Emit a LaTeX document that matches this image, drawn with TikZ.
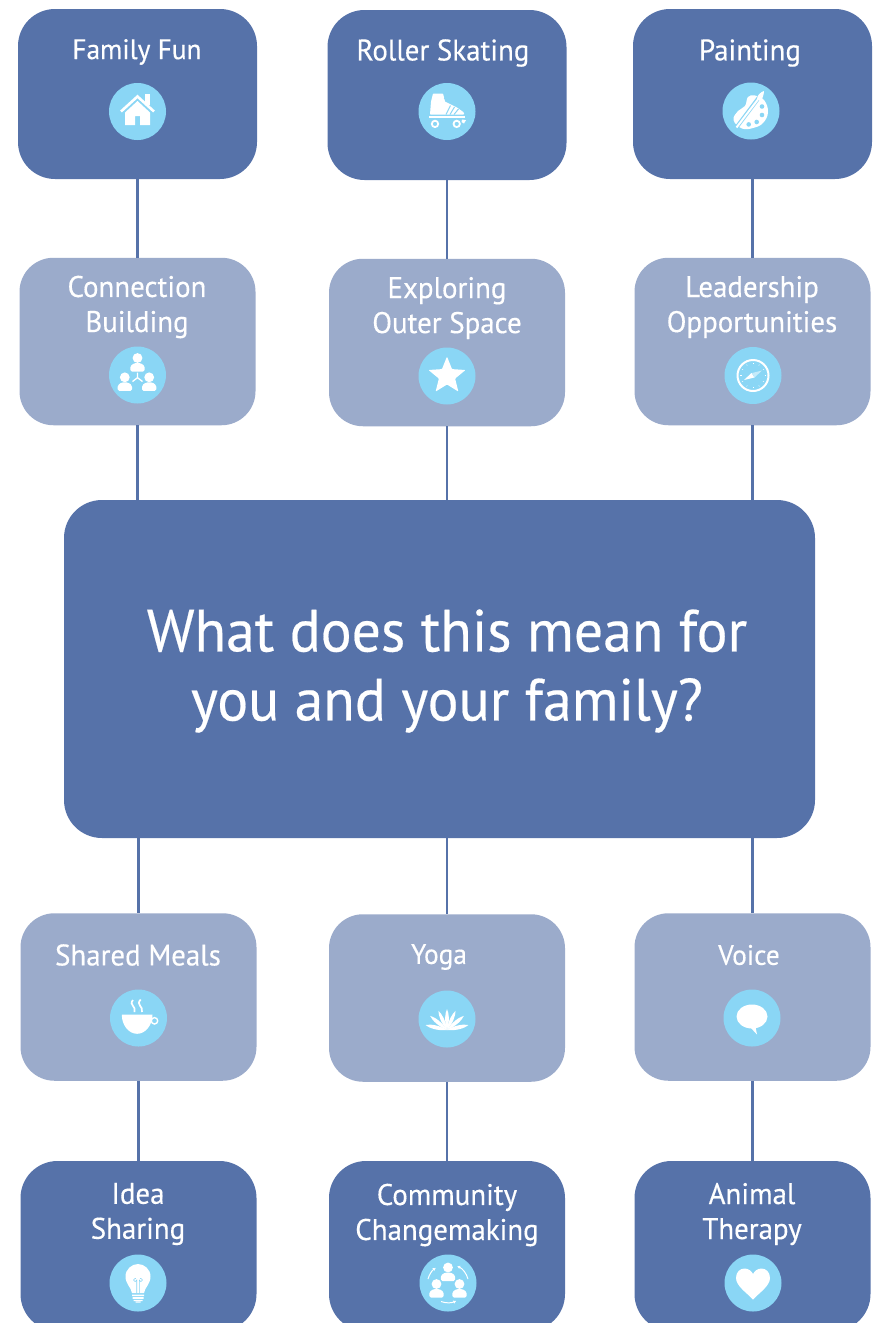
\documentclass[tikz,border=0pt]{standalone}
\usepackage{fontspec}
\setmainfont{PT Sans}
\newfontfamily\labelfont[FakeBold=0.35,FakeStretch=0.97]{PT Sans}
\usetikzlibrary{arrows.meta,calc}
\definecolor{darkblue}{HTML}{5672A9}
\definecolor{lightblue}{HTML}{9BABCB}
\definecolor{iconblue}{HTML}{8AD6F5}
\tikzset{
  x=1pt,y=-1pt,
  darkbox/.style={fill=darkblue,draw=none,rounded corners=37pt,inner sep=0pt,minimum width=239pt,minimum height=170pt},
  lightbox/.style={fill=lightblue,draw=none,rounded corners=34pt,inner sep=0pt,minimum width=236pt,minimum height=167.5pt},
  mainbox/.style={fill=darkblue,draw=none,rounded corners=38pt,inner sep=0pt,minimum width=751pt,minimum height=338pt},
  label/.style={text=white,align=center,inner sep=0pt,font=\labelfont\fontsize{29.8}{35}\selectfont},
  shortlabel/.style={text=white,align=center,inner sep=0pt,font=\labelfont\fontsize{28.2}{35}\selectfont},
  mainlabel/.style={text=white,align=center,inner sep=0pt,font=\labelfont\fontsize{59.5}{69}\selectfont},
  iconcircle/.style={fill=iconblue,draw=none,circle,inner sep=0pt,minimum size=57pt},
  link/.style={draw=darkblue,line width=2.2pt},
  icon/.style={fill=white,draw=none},
}
\newcommand{\famperson}[2]{%
  \fill[white] (#1,#2) circle (4.9);
  \fill[white,rounded corners=1.5pt] ($(#1,#2)+(-7.2,13.5)$) -- ($(#1,#2)+(-7.2,8)$) -- ($(#1,#2)+(-3,5)$) -- ($(#1,#2)+(3,5)$) -- ($(#1,#2)+(7.2,8)$) -- ($(#1,#2)+(7.2,13.5)$) -- cycle;}
\newcommand{\lotuspetal}[3]{%
  \fill[white,shift={(0,11)},rotate=#1,xscale=#3,yscale=#2] (0,0) .. controls (-.19,-.45) and (-.12,-.8) .. (0,-1) .. controls (.12,-.8) and (.19,-.45) .. (0,0);}
\tikzset{
  pics/house/.style={code={
    \draw[white,line width=2.6pt] (-16.5,0) -- (0,-15) -- (16.5,0);
    \fill[white] (0,-10.5) -- (-12.5,1) -- (-12.5,13.5) -- (-2.5,13.5) -- (-2.5,4.5) -- (2.5,4.5) -- (2.5,13.5) -- (12.5,13.5) -- (12.5,1) -- cycle;
    \fill[white] (7,-18) rectangle (12.5,-7);
  }},
  pics/skate/.style={code={
    \fill[white,rounded corners=.8pt] (-14,-18) -- (-4,-18) -- (-2,-10) -- (10,-4) -- (17,1) -- (17,3.2) -- (-17,3.2) -- (-16,-10) -- cycle;
    \draw[iconblue,line width=.8pt] (-3,-13) -- (1,-15) (-1.5,-10) -- (2,-12);
    \draw[iconblue,line width=1pt] (-1,3) -- (3.5,-6) (3,3) -- (7.5,-4.5) (7,3) -- (11.5,-2.5);
    \fill[white] (-18,4.6) rectangle (18,6.8);
    \draw[white,line width=1.8pt,fill=iconblue] (-12,12.4) circle (3.2) (9.7,12.4) circle (3.2);
    \fill[white] (15,8) -- (19,8.6) -- (17,12) -- (14.5,10.5) -- cycle;
  }},
  pics/palette/.style={code={
    \fill[white] plot[smooth cycle,tension=.7] coordinates {(-17.5,9) (-13,0) (-6,-5) (-3,-14) (4,-15.5) (13,-11) (17,1) (12,12) (2,17) (-9,17.5)};
    \fill[iconblue] (11,-4.5) circle (2.3) (11,4) circle (2.3) (5.7,11) circle (2.3) (-2.3,13.4) circle (2.3);
    \draw[iconblue,line width=4pt] (-15,17) -- (9,-15);
    \draw[white,line width=2pt] (-14.5,16.5) -- (8,-13);
    \fill[white] (6,-12) .. controls (6,-16) and (10,-19) .. (13,-20) .. controls (13,-16) and (11,-11) .. (9,-10) -- cycle;
  }},
  pics/network/.style={code={
    \famperson{0}{-17}
    \famperson{-12.7}{2.3}
    \famperson{11.7}{2.3}
    \draw[white,line width=1.3pt] (0,-2.5) -- (0,2.7) (-5,6.5) -- (0,2.7) -- (5,6.5);
  }},
  pics/compass/.style={code={
    \draw[white,line width=2pt] (0,0) circle (15.5);
    \foreach \a in {0,30,...,330}{\draw[white,line width=.4pt] (\a:11.5) -- (\a:12.7);}
    \fill[white] (-9,4.5) -- (-1.5,-2.5) -- (1.5,2) -- cycle;
    \fill[white!50!iconblue] (9,-5) -- (-1,-2.5) -- (1.5,2) -- cycle;
  }},
  pics/starshape/.style={code={
    \fill[white,rounded corners=.8pt] (0,-19.5) -- (5,-6.9) -- (18.5,-6) -- (8.1,2.6) -- (11.4,15.6) -- (0,8.5) -- (-11.4,15.6) -- (-8.1,2.6) -- (-18.5,-6) -- (-5,-6.9) -- cycle;
  }},
  pics/cup/.style={code={
    \fill[white] (-16.7,-3.3) -- (14,-3.3) .. controls (14,7) and (7,15.8) .. (-1.3,15.8) .. controls (-10,15.8) and (-16.7,7) .. (-16.7,-3.3) -- cycle;
    \draw[white,line width=1.4pt] (16,2.8) circle (3.2);
    \draw[white,line width=1.7pt] (-5.5,-18) .. controls (-10,-13) and (-2,-12) .. (-4,-6) (2.2,-18.5) .. controls (-3,-13) and (5,-12) .. (3.5,-6);
  }},
  pics/lotus/.style={code={
    \lotuspetal{0}{21}{16}\lotuspetal{24}{21}{15}\lotuspetal{-24}{21}{15}
    \lotuspetal{50}{22}{16}\lotuspetal{-50}{22}{16}
    \lotuspetal{77}{22}{17}\lotuspetal{-77}{22}{17}
  }},
  pics/bubble/.style={code={
    \fill[white] (0,-1.5) ellipse [x radius=15.5,y radius=12];
    \fill[white] (-2,9) -- (5,16.5) -- (3.5,9) -- cycle;
  }},
  pics/bulb/.style={code={
    \fill[white] (-6,10) .. controls (-7,4) and (-12.5,1) .. (-12.5,-6.5) .. controls (-12.5,-14) and (-6,-19) .. (0,-19) .. controls (6,-19) and (12.5,-14) .. (12.5,-6.5) .. controls (12.5,1) and (7,4) .. (6,10) -- cycle;
    \fill[white] (-6,11.5) rectangle (6,13.2) (-5.5,14.2) rectangle (5.5,15.8) (-4.5,16.8) rectangle (4.5,18) (-2.5,18.6) rectangle (2.5,19.6);
    \draw[iconblue,line width=.6pt] (-1.3,10) -- (-1.3,-3) arc (0:300:1.6) (1.3,10) -- (1.3,-3) arc (180:-120:1.6);
  }},
  pics/commun/.style={code={
    \famperson{0}{-15.5}
    \famperson{-11.5}{1}
    \famperson{11.5}{1}
    \draw[white,line width=1pt,-{Latex[length=3pt,width=3.5pt]}] (-20,-4) arc[start angle=-165,end angle=-125,radius=20];
    \draw[white,line width=1pt,-{Latex[length=3pt,width=3.5pt]}] (20,-4) arc[start angle=-15,end angle=-65,radius=20];
    \draw[white,line width=1pt,-{Latex[length=3pt,width=3.5pt]}] (-7,18.5) arc[start angle=110,end angle=65,radius=20];
  }},
  pics/heart/.style={code={
    \fill[white] (0,16.5) .. controls (-6,10) and (-17,3) .. (-17,-5) .. controls (-17,-11) and (-13,-14.5) .. (-8.5,-14.5) .. controls (-4.5,-14.5) and (-1.5,-12) .. (0,-9) .. controls (1.5,-12) and (4.5,-14.5) .. (8.5,-14.5) .. controls (13,-14.5) and (17,-11) .. (17,-5) .. controls (17,3) and (6,10) .. (0,16.5) -- cycle;
  }},
}
\begin{document}
\begin{tikzpicture}
\useasboundingbox (0,0) rectangle (878,1323);
\clip (0,0) rectangle (878,1323);
% boxes
\node[mainbox] (center) at (439.5,669) {};
\node[darkbox] (a1) at (137.5,94) {};
\node[darkbox] (a2) at (447,95) {};
\node[darkbox] (a3) at (752.5,94) {};
\node[lightbox] (b1) at (137.5,341.5) {};
\node[lightbox] (b2) at (447,342.5) {};
\node[lightbox] (b3) at (752.5,341.5) {};
\node[lightbox] (c1) at (138.5,997) {};
\node[lightbox] (c2) at (447,998) {};
\node[lightbox] (c3) at (752.5,997) {};
\node[darkbox,minimum width=236pt] (d1) at (138.5,1246) {};
\node[darkbox,minimum width=236pt] (d2) at (447,1246) {};
\node[darkbox,minimum width=236pt] (d3) at (752.5,1246) {};
% connectors
\draw[link] (a1.south) -- (b1.north);
\draw[link] (a2.south) -- (b2.north);
\draw[link] (a3.south) -- (b3.north);
\draw[link] (b1.south) -- (b1.south |- center.north);
\draw[link] (b2.south) -- (b2.south |- center.north);
\draw[link] (b3.south) -- (b3.south |- center.north);
\draw[link] (c1.north |- center.south) -- (c1.north);
\draw[link] (c2.north |- center.south) -- (c2.north);
\draw[link] (c3.north |- center.south) -- (c3.north);
\draw[link] (c1.south) -- (d1.north);
\draw[link] (c2.south) -- (d2.north);
\draw[link] (c3.south) -- (d3.north);
% labels
\node[mainlabel] (tm) at (447,671) {What does this mean for\\you and your family?};
\node[shortlabel] (t1) at (137,52) {Family Fun};
\node[label] (t2) at (443,53) {Roller Skating};
\node[label] (t3) at (750,53) {Painting};
\node[label] (t4) at (137,307) {Connection\\Building};
\node[label] (t5) at (447,308) {Exploring\\Outer Space};
\node[label] (t6) at (752,307) {Leadership\\Opportunities};
\node[label] (t7) at (138,955) {Shared Meals};
\node[shortlabel] (t8) at (439,957) {Yoga};
\node[shortlabel] (t9) at (749,955) {Voice};
\node[label] (t10) at (138,1214) {Idea\\Sharing};
\node[label] (t11) at (447,1215) {Community\\Changemaking};
\node[label] (t12) at (752,1214) {Animal\\Therapy};
% icons
\node[iconcircle] (i1) at (137.5,111.5) {};
\pic at (i1.center) {house};
\node[iconcircle] (i2) at (447,111.5) {};
\pic at (i2.center) {skate};
\node[iconcircle] (i3) at (751,111) {};
\pic at (i3.center) {palette};
\node[iconcircle] (i4) at (137.5,375) {};
\pic at (i4.center) {network};
\node[iconcircle] (i5) at (447,376) {};
\pic at (i5.center) {starshape};
\node[iconcircle] (i6) at (753,375.5) {};
\pic at (i6.center) {compass};
\node[iconcircle] (i7) at (138.5,1018) {};
\pic at (i7.center) {cup};
\node[iconcircle] (i8) at (447,1019) {};
\pic at (i8.center) {lotus};
\node[iconcircle] (i9) at (752,1018) {};
\pic at (i9.center) {bubble};
\node[iconcircle] (i10) at (138,1283) {};
\pic at (i10.center) {bulb};
\node[iconcircle] (i11) at (448,1283) {};
\pic at (i11.center) {commun};
\node[iconcircle] (i12) at (753,1283) {};
\pic at (i12.center) {heart};
\end{tikzpicture}
\end{document}
